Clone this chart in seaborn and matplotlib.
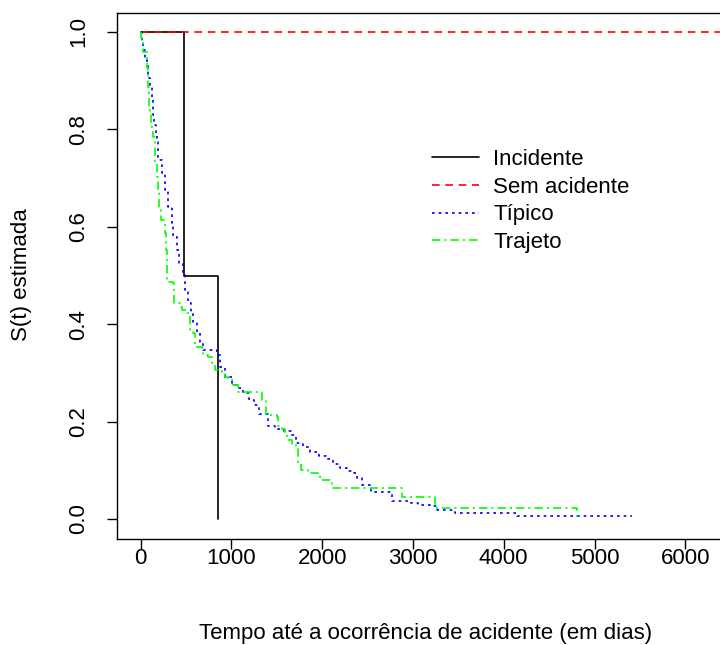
import numpy as np
import pandas as pd
import matplotlib
matplotlib.use("Agg")
import matplotlib.pyplot as plt
import seaborn as sns

# Kaplan-Meier estimates per accident type (time in days, estimated S(t))
incidente_t = [0, 480, 854]
incidente_s = [1.0, 0.5, 0.0]

sem_acidente_t = [0, 6475]
sem_acidente_s = [1.0, 1.0]

tipico_t = [0, 17, 28, 50, 72, 83, 105, 127, 138, 149, 171, 182, 193, 237, 270,
            303, 347, 358, 402, 424, 468, 490, 523, 556, 579, 622, 656, 689, 843,
            876, 931, 1008, 1074, 1129, 1196, 1251, 1306, 1405, 1482, 1581, 1658,
            1713, 1791, 1868, 1967, 2044, 2121, 2198, 2275, 2353, 2386, 2441, 2540,
            2771, 2981, 3058, 3190, 3267, 3466, 4149, 5416]
tipico_s = [1.0, 0.979, 0.963, 0.949, 0.930, 0.906, 0.887, 0.867, 0.830, 0.809,
            0.793, 0.774, 0.737, 0.710, 0.676, 0.641, 0.608, 0.579, 0.552, 0.526,
            0.501, 0.470, 0.444, 0.423, 0.405, 0.384, 0.363, 0.347, 0.337, 0.312,
            0.292, 0.275, 0.269, 0.259, 0.244, 0.234, 0.216, 0.191, 0.185, 0.181,
            0.172, 0.156, 0.148, 0.138, 0.129, 0.123, 0.113, 0.105, 0.099, 0.094,
            0.084, 0.070, 0.055, 0.037, 0.033, 0.029, 0.027, 0.018, 0.012, 0.006,
            0.006]

trajeto_t = [0, 5, 17, 28, 72, 83, 94, 105, 116, 127, 138, 160, 182, 193, 204,
             226, 259, 270, 281, 292, 358, 369, 435, 457, 512, 545, 579, 601, 678,
             689, 744, 788, 821, 898, 931, 964, 1008, 1019, 1074, 1339, 1383, 1504,
             1515, 1559, 1592, 1614, 1669, 1713, 1735, 1768, 1846, 1956, 1978,
             2088, 2110, 2882, 3245, 4810]
trajeto_s = [1.0, 0.988, 0.984, 0.959, 0.926, 0.887, 0.846, 0.830, 0.815, 0.795,
             0.784, 0.731, 0.702, 0.669, 0.635, 0.614, 0.608, 0.587, 0.552, 0.487,
             0.485, 0.444, 0.435, 0.429, 0.423, 0.388, 0.382, 0.353, 0.351, 0.337,
             0.333, 0.320, 0.306, 0.302, 0.292, 0.290, 0.285, 0.275, 0.261, 0.244,
             0.214, 0.209, 0.191, 0.185, 0.177, 0.162, 0.152, 0.144, 0.115, 0.101,
             0.094, 0.090, 0.080, 0.076, 0.064, 0.045, 0.023, 0.0]

grupos = ["Incidente", "Sem acidente", "Típico", "Trajeto"]
x_ticks = [0, 1000, 2000, 3000, 4000, 5000, 6000]
y_ticks = [0.0, 0.2, 0.4, 0.6, 0.8, 1.0]

curvas = {
    "Incidente": (incidente_t, incidente_s),
    "Sem acidente": (sem_acidente_t, sem_acidente_s),
    "Típico": (tipico_t, tipico_s),
    "Trajeto": (trajeto_t, trajeto_s),
}
estilos = {
    "Incidente": dict(color="black", linestyle="-"),
    "Sem acidente": dict(color="#ff0000", linestyle=(0, (4.6, 3.4))),
    "Típico": dict(color="#0000ff", linestyle=(0, (1.6, 2.4))),
    "Trajeto": dict(color="#00ff00", linestyle=(0, (5.0, 2.4, 1.3, 2.4))),
}

FS = 16

sns.set_theme(style="ticks")
plt.rcParams["font.family"] = ["Liberation Sans", "DejaVu Sans"]
plt.rcParams["axes.edgecolor"] = "black"
plt.rcParams["axes.linewidth"] = 1.0

fig = plt.figure(figsize=(7.2, 6.45), dpi=100)
fig.patch.set_facecolor("white")
W, H = 720, 645
left, right, top, bottom = 117, 752, 12.5, 538.5
ax = fig.add_axes([left / W, 1 - bottom / H, (right - left) / W, (bottom - top) / H])
ax.set_facecolor("white")

for nome in grupos:
    t, s = curvas[nome]
    df = pd.DataFrame({"tempo": t, "S": s})
    sns.lineplot(data=df, x="tempo", y="S", ax=ax, estimator=None, sort=False,
                 drawstyle="steps-post", linewidth=1.2, label=nome,
                 **estilos[nome])

ax.set_xlim(-259, 6734)
ax.set_ylim(-0.04, 1.04)
ax.set_xticks(x_ticks)
ax.set_xticklabels([str(v) for v in x_ticks])
ax.set_yticks(y_ticks)
ax.set_yticklabels([f"{v:.1f}" for v in y_ticks], rotation=90, va="center")
ax.tick_params(axis="both", length=7, width=1.0, color="black", labelsize=FS,
               labelcolor="black")
ax.tick_params(axis="x", pad=0)
ax.tick_params(axis="y", pad=13)
for sp in ax.spines.values():
    sp.set_visible(True)
    sp.set_color("black")

ax.set_xlabel("Tempo até a ocorrência de acidente (em dias)", fontsize=FS, color="black")
ax.set_ylabel("S(t) estimada", fontsize=FS, color="black")
ax.xaxis.set_label_coords(426 / W, 1 - 633 / H, transform=fig.transFigure)
ax.yaxis.set_label_coords(22 / W, 1 - 275 / H, transform=fig.transFigure)
ax.xaxis.label.set_va("center")
ax.yaxis.label.set_va("center")

leg = ax.legend(loc="upper left", bbox_to_anchor=(432 / W, 1 - 149 / H),
                bbox_transform=fig.transFigure, frameon=False, fontsize=FS,
                handlelength=2.1, handletextpad=0.65, labelspacing=0.30,
                borderpad=0, borderaxespad=0)
for txt in leg.get_texts():
    txt.set_color("black")

fig.savefig("out.png", dpi=100, facecolor="white")
